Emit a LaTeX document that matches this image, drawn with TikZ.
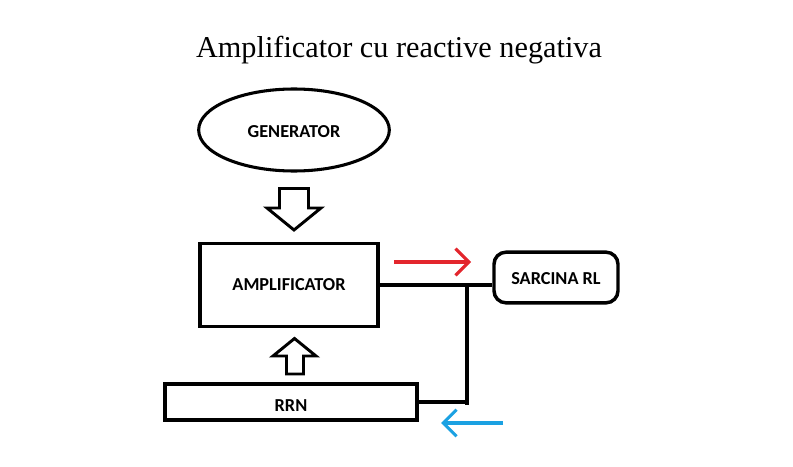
\documentclass[tikz,border=0pt]{standalone}
\usepackage{fontspec}
\setmainfont{Liberation Serif}
\newfontfamily\labelfont{Carlito}
\usetikzlibrary{arrows.meta,positioning,calc,shapes.geometric}
\definecolor{flowred}{HTML}{E3262D}
\definecolor{flowblue}{HTML}{1BA1E2}
\tikzset{block/.style={draw,line width=2.6pt,inner sep=0pt,
  font=\labelfont\bfseries\fontsize{13.7}{15}\selectfont},
  oval/.style={block,ellipse,line width=2.3pt},
  load/.style={block,rounded corners=9pt},
  wire/.style={line width=2.5pt},
  bigarrow/.style={draw,line width=2.2pt,line join=miter,fill=white},
  flow/.style={line width=2.3pt,-{Straight Barb[length=10pt,width=20pt]}}}
\begin{document}
\begin{tikzpicture}[x=0.75pt,y=-0.75pt]
\useasboundingbox (0,0) rectangle (793,467);
\node[anchor=base,font=\fontsize{22.7}{26}\selectfont] (title) at (399,58) {Amplificator cu reactive negativa};
\node[oval,minimum width=143pt,minimum height=61.5pt,text height=11pt,text depth=0pt] (gen) at (294,130) {GENERATOR};
\node[block,minimum width=133.5pt,minimum height=62pt] (amp) at (289,285) {AMPLIFICATOR};
\node[load,minimum width=93pt,minimum height=38pt,text height=11pt,text depth=0pt] (rl) at (556,277.5) {SARCINA RL};
\node[block,minimum width=189pt,minimum height=27pt,text height=14pt,text depth=0pt] (rrn) at (291,402) {RRN};
\coordinate (tap) at (467,285);
\coordinate (redA) at (394,262);
\coordinate (redB) at (471,262);
\coordinate (blueA) at (503,423);
\coordinate (blueB) at (441,423);
% block arrows
\draw[bigarrow] (279.5,188.5) -- (308.5,188.5) -- (308.5,208) -- (321,208) -- (294,230)
  -- (267,208) -- (279.5,208) -- cycle;
\draw[bigarrow] (286.5,374) -- (303.5,374) -- (303.5,356) -- (316,356) -- (294.5,338.5)
  -- (273,356) -- (286.5,356) -- cycle;
% wires
\draw[wire] (amp.east) -- (amp.east -| rl.west);
\draw[wire] (tap) -- ++(0,120);
\draw[wire] (rrn.east) -- (rrn.east -| tap);
\draw[flow,flowred] (redA) -- (redB);
\draw[flow,flowblue] (blueA) -- (blueB);
\end{tikzpicture}
\end{document}
